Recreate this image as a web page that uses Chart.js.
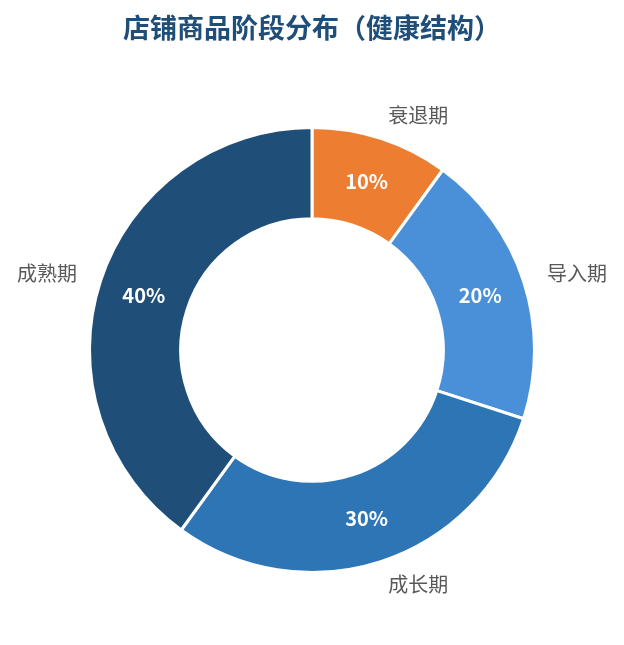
<!DOCTYPE html>
<html>
<head>
<meta charset="utf-8">
<script src="https://cdn.jsdelivr.net/npm/chart.js@4/dist/chart.umd.min.js"></script>
<style>
  html, body { margin: 0; padding: 0; background: #fff; }
  #wrap { width: 624px; height: 645px; }
</style>
</head>
<body>
<div id="wrap"><canvas id="stage_pie"></canvas></div>
<script>
// 商品阶段 (clockwise from top)
var stages = ["衰退期", "导入期", "成长期", "成熟期"];
var shares = [10, 20, 30, 40];
var colors = ['#ED7D31', '#4A90D9', '#2E75B6', '#1F4E79'];

var fontCJK = '"Noto Sans CJK SC", "Noto Sans", sans-serif';

// names outside the ring, percentages inside it
var sliceLabels = {
    id: 'sliceLabels',
    afterDatasetsDraw: function (chart) {
        var c = chart.ctx;
        var arcs = chart.getDatasetMeta(0).data;
        c.save();
        c.textBaseline = 'middle';
        arcs.forEach(function (arc, i) {
            var p = arc.getProps(['x', 'y', 'startAngle', 'endAngle', 'innerRadius', 'outerRadius'], true);
            var mid = (p.startAngle + p.endAngle) / 2;
            var cos = Math.cos(mid), sin = Math.sin(mid);

            var rIn = (p.innerRadius + p.outerRadius) / 2;
            c.fillStyle = '#ffffff';
            c.font = 'bold 20px ' + fontCJK;
            c.textAlign = 'center';
            c.fillText(shares[i] + '%', p.x + cos * rIn, p.y + sin * rIn);

            var rOut = p.outerRadius * 1.11;
            c.fillStyle = '#595959';
            c.font = '20px ' + fontCJK;
            c.textAlign = cos >= 0 ? 'left' : 'right';
            c.fillText(stages[i], p.x + cos * rOut, p.y + sin * rOut);
        });
        c.restore();
    }
};

var ctx = document.getElementById('stage_pie').getContext('2d');
var chart = new Chart(ctx, {
    type: 'doughnut',
    data: {
        labels: stages,
        datasets: [{
            data: shares,
            backgroundColor: colors,
            borderColor: '#ffffff',
            borderWidth: 3
        }]
    },
    options: {
        responsive: true,
        maintainAspectRatio: false,
        animation: false,
        cutout: '59%',
        layout: {
            padding: { top: 0, bottom: 71, left: 88, right: 88 }
        },
        plugins: {
            legend: { display: false },
            tooltip: { enabled: false },
            title: {
                display: true,
                text: '店铺商品阶段分布（健康结构）',
                color: '#1F4E79',
                font: { size: 27, weight: 'bold', family: fontCJK, lineHeight: 1.2 },
                padding: { top: 12, bottom: 81.6 }
            }
        }
    },
    plugins: [sliceLabels]
});
</script>
</body>
</html>
